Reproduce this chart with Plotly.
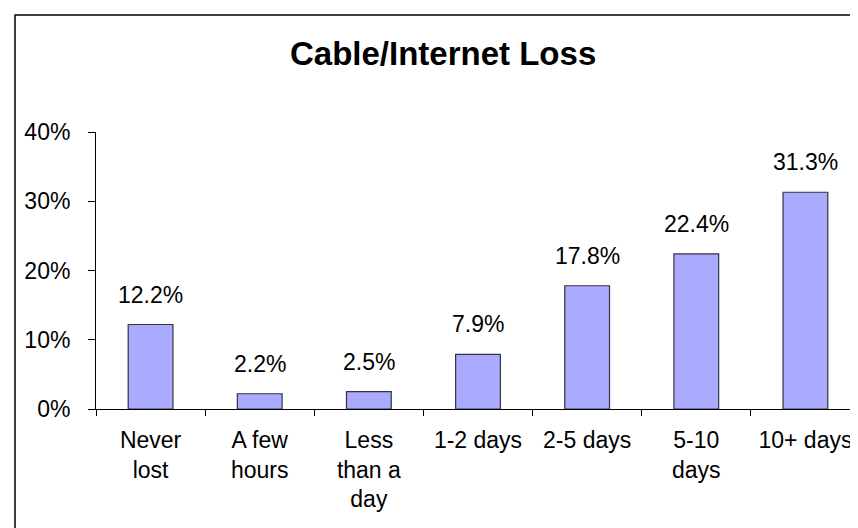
import plotly.graph_objects as go

# survey answers, share of respondents (%)
categories = ['Never<br>lost', 'A few<br>hours', 'Less<br>than a<br>day', '1-2 days',
              '2-5 days', '5-10<br>days', '10+ days']
values = [12.2, 2.2, 2.5, 7.9, 17.8, 22.4, 31.3]
labels = ['12.2%', '2.2%', '2.5%', '7.9%', '17.8%', '22.4%', '31.3%']
y_ticks = [0, 10, 20, 30, 40]
y_tick_text = ['0%', '10%', '20%', '30%', '40%']

FONT = 'Arial, Liberation Sans, sans-serif'

fig = go.Figure()
fig.add_trace(go.Bar(
    x=categories, y=values,
    marker=dict(color='#AAAAFF', line=dict(color='#333344', width=1.2)),
    width=0.41,
))

# value labels above the bars
for cat, val, lab in zip(categories, values, labels):
    fig.add_annotation(
        x=cat, y=val, text=lab, showarrow=False,
        yanchor='bottom', yshift=15,
        font=dict(family=FONT, size=23, color='black'),
    )

fig.update_xaxes(
    showline=True, linecolor='black', linewidth=1,
    ticks='outside', tickson='boundaries', ticklen=6, tickcolor='black',
    tickfont=dict(family=FONT, size=23, color='black'),
    ticklabelstandoff=10,
    showgrid=False,
)
fig.update_yaxes(
    range=[0, 40], tickvals=y_ticks, ticktext=y_tick_text,
    showline=True, linecolor='black', linewidth=1,
    ticks='outside', ticklen=7, tickcolor='black',
    tickfont=dict(family=FONT, size=23, color='black'),
    ticklabelstandoff=13,
    showgrid=False, zeroline=False,
)

fig.add_annotation(
    text='<b>Cable/Internet Loss</b>', xref='paper', yref='paper',
    x=0.454, y=1.285, showarrow=False, xanchor='center', yanchor='middle',
    font=dict(family=FONT, size=33, color='black'),
)

# chart frame
fig.add_shape(type='rect', xref='paper', yref='paper',
              x0=-0.106, x1=1.03, y0=-0.52, y1=1.4224,
              line=dict(color='black', width=1.5))

fig.update_layout(
    width=858, height=528,
    margin=dict(l=88, r=6, t=124, b=127),
    plot_bgcolor='white', paper_bgcolor='white',
    showlegend=False, bargap=0.59,
)

fig.write_html('out.html')
